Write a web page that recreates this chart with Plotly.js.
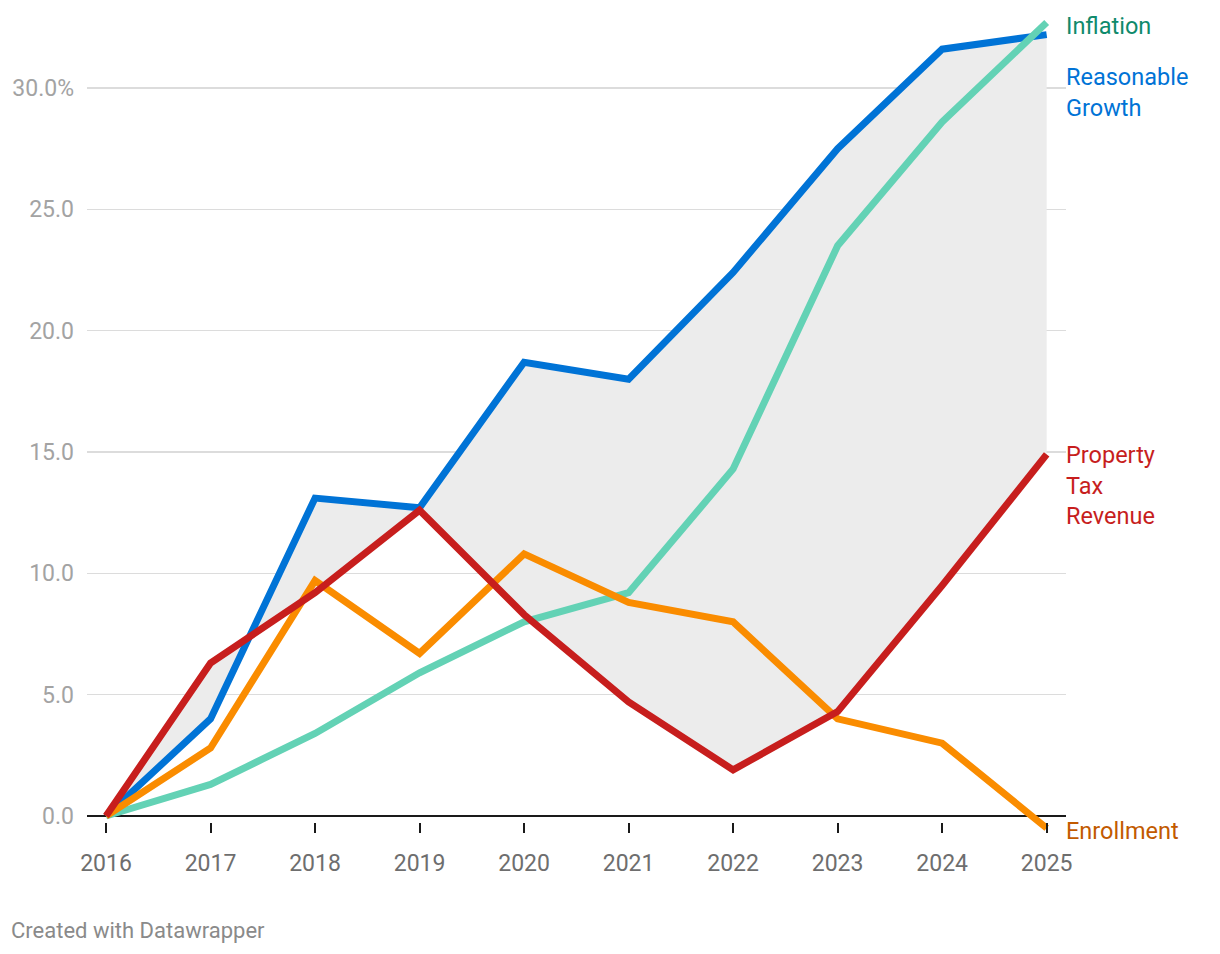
<!DOCTYPE html>
<html>
<head>
<meta charset="utf-8">
<script src="https://cdn.plot.ly/plotly-3.0.1.min.js"></script>
<style>
html,body{margin:0;padding:0;background:#fff;}
#chart{width:1220px;height:954px;}
</style>
</head>
<body>
<div id="chart"></div>
<script>
const years = [2016, 2017, 2018, 2019, 2020, 2021, 2022, 2023, 2024, 2025];
const reasonableGrowth = [0, 4.0, 13.1, 12.7, 18.7, 18.0, 22.4, 27.5, 31.6, 32.2];
const inflation = [0, 1.3, 3.4, 5.9, 8.0, 9.2, 14.3, 23.5, 28.6, 32.7];
const propertyTax = [0, 6.3, 9.2, 12.6, 8.3, 4.7, 1.9, 4.3, 9.5, 14.9];
const enrollment = [0, 2.8, 9.7, 6.7, 10.8, 8.8, 8.0, 4.0, 3.0, -0.5];
const yTickVals = [0, 5, 10, 15, 20, 25, 30];
const yTickText = ["0.0", "5.0", "10.0", "15.0", "20.0", "25.0", "30.0%"];
const xTickText = years.map(String);

const C = {
  blue: '#0073d6', teal: '#63d2b5', red: '#c71e1d', orange: '#fa8c00',
  labInfl: '#0f8a6c', labBlue: '#0073d6', labRed: '#c71e1d', labOrange: '#c25a00'
};

const traces = [
  {x: years, y: propertyTax, mode: 'lines', line: {width: 0, color: 'rgba(0,0,0,0)'}, hoverinfo: 'skip', showlegend: false},
  {x: years, y: reasonableGrowth, mode: 'lines', line: {width: 0, color: 'rgba(0,0,0,0)'}, fill: 'tonexty', fillcolor: '#ececec', hoverinfo: 'skip', showlegend: false},
  {x: years, y: reasonableGrowth, mode: 'lines', line: {width: 7, color: C.blue}, name: 'Reasonable Growth'},
  {x: years, y: inflation, mode: 'lines', line: {width: 7, color: C.teal}, name: 'Inflation'},
  {x: years, y: enrollment, mode: 'lines', line: {width: 7, color: C.orange}, name: 'Enrollment'},
  {x: years, y: propertyTax, mode: 'lines', line: {width: 7, color: C.red}, name: 'Property Tax Revenue'}
];

const labFont = (c) => ({family: 'Roboto', size: 23.5, color: c});
const last = years.length - 1;

const layout = {
  width: 1220, height: 954,
  margin: {l: 87, r: 154, t: 10, b: 114},
  paper_bgcolor: '#fff', plot_bgcolor: '#fff',
  showlegend: false,
  font: {family: 'Roboto'},
  xaxis: {
    range: [2015.818, 2025.185],
    tickvals: years, ticktext: xTickText,
    anchor: 'free', position: 0.0217,
    showgrid: false, zeroline: false, showline: false,
    ticks: 'outside', ticklen: 10, tickwidth: 2, tickcolor: '#1a1a1a',
    ticklabelstandoff: 10,
    tickfont: {family: 'Roboto', size: 23, color: '#6e6e6e'},
    fixedrange: true
  },
  yaxis: {
    range: [-0.99, 33.214],
    tickvals: yTickVals, ticktext: yTickText,
    showgrid: true, gridcolor: '#dcdcdc', gridwidth: 1.5,
    zeroline: true, zerolinecolor: '#1a1a1a', zerolinewidth: 2,
    showline: false, ticks: '',
    ticklabelstandoff: 12,
    tickfont: {family: 'Roboto', size: 23, color: '#a3a3a3'},
    fixedrange: true
  },
  annotations: [
    {xref: 'paper', yref: 'y', x: 1, xshift: -2, y: inflation[last] - 0.15, xanchor: 'left', yanchor: 'middle', text: 'Inflation', showarrow: false, font: labFont(C.labInfl), align: 'left'},
    {xref: 'paper', yref: 'y', x: 1, xshift: -2, y: 29.83, xanchor: 'left', yanchor: 'middle', text: 'Reasonable<br>Growth', showarrow: false, font: labFont(C.labBlue), align: 'left'},
    {xref: 'paper', yref: 'y', x: 1, xshift: -2, y: propertyTax[last] - 1.3, xanchor: 'left', yanchor: 'middle', text: 'Property<br>Tax<br>Revenue', showarrow: false, font: labFont(C.labRed), align: 'left'},
    {xref: 'paper', yref: 'y', x: 1, xshift: -2, y: enrollment[last] - 0.13, xanchor: 'left', yanchor: 'middle', text: 'Enrollment', showarrow: false, font: labFont(C.labOrange), align: 'left'},
    {xref: 'paper', yref: 'paper', x: -0.0776, xshift: -2, y: -0.1096, xanchor: 'left', yanchor: 'middle', text: 'Created with Datawrapper', showarrow: false, font: {family: 'Roboto', size: 22, color: '#8a8a8a'}}
  ]
};

Plotly.newPlot('chart', traces, layout, {displayModeBar: false, staticPlot: true});
</script>
</body>
</html>
